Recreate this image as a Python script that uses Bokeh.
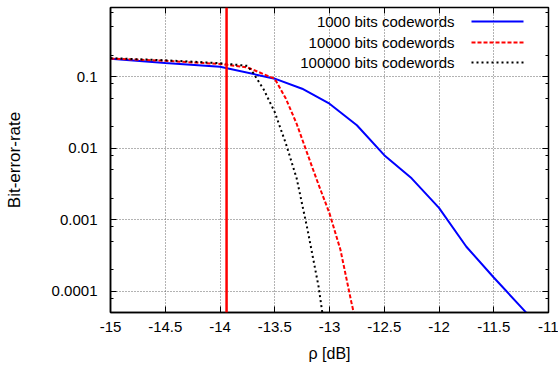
from bokeh.plotting import figure
from bokeh.models import Range1d, FixedTicker, LogAxis, LinearAxis, Span, Label, Arrow
from bokeh.embed import file_html
from bokeh.resources import INLINE

# ---- data ----
rho_1000 = [-15, -14.5, -14, -13.5, -13.25, -13, -12.75, -12.5, -12.25, -12, -11.75, -11.5, -11.25, -11.0]
ber_1000 = [0.178, 0.156, 0.138, 0.094, 0.068, 0.042, 0.021, 0.008, 0.0038, 0.00147, 0.00042, 0.000156, 6.0e-5, 2.3e-5]

rho_10000 = [-15, -14.5, -14, -13.75, -13.5, -13.4, -13.3, -13.2, -13.1, -13.0, -12.9, -12.8, -12.75]
ber_10000 = [0.18, 0.167, 0.151, 0.135, 0.094, 0.05, 0.022, 0.0082, 0.0031, 0.00123, 0.00038, 7e-5, 3.2e-5]

rho_100000 = [-15, -14.5, -14, -13.75, -13.7, -13.6, -13.5, -13.4, -13.3, -13.2, -13.1, -13.0]
ber_100000 = [0.182, 0.17, 0.155, 0.142, 0.115, 0.066, 0.032, 0.0118, 0.0038, 0.00072, 0.000117, 1e-5]

threshold_rho = -13.94

series_labels = ["1000 bits codewords", "10000 bits codewords", "100000 bits codewords"]

x_ticks = [-15, -14.5, -14, -13.5, -13, -12.5, -12, -11.5, -11]
x_tick_labels = ["-15", "-14.5", "-14", "-13.5", "-13", "-12.5", "-12", "-11.5", "-11"]
y_ticks = [0.0001, 0.001, 0.01, 0.1]
y_tick_labels = ["0.0001", "0.001", "0.01", "0.1"]
y_minor = [m * d for d in [1e-5, 1e-4, 1e-3, 1e-2, 1e-1] for m in (2, 5, 8)]

FONT = "Liberation Sans"

p = figure(width=558, height=368, x_range=Range1d(-15, -11), y_range=Range1d(5.05e-5, 0.93),
           y_axis_type="log", output_backend="svg", toolbar_location=None,
           min_border_left=110, min_border_right=10, min_border_top=7, min_border_bottom=56)
p.background_fill_color = "white"
p.outline_line_color = "black"
p.outline_line_width = 1.5

xt = FixedTicker(ticks=x_ticks)
yt = FixedTicker(ticks=y_ticks, minor_ticks=y_minor)

xa = p.xaxis[0]
xa.ticker = xt
xa.major_label_overrides = {float(v): s for v, s in zip(x_ticks, x_tick_labels)}
ya = p.yaxis[0]
ya.ticker = yt
ya.major_label_overrides = {float(v): s for v, s in zip(y_ticks, y_tick_labels)}

for ax in (xa, ya):
    ax.major_tick_in = 6
    ax.major_tick_out = 0
    ax.minor_tick_in = 3
    ax.minor_tick_out = 0
    ax.axis_line_width = 1.5
    ax.axis_line_color = "black"
    ax.major_tick_line_color = "black"
    ax.minor_tick_line_color = "black"
    ax.major_label_text_font = FONT
    ax.major_label_text_font_size = "15px"
    ax.major_label_text_color = "black"
    ax.axis_label_text_font = FONT
    ax.axis_label_text_font_style = "normal"
    ax.axis_label_text_color = "black"

xa.axis_label = "ρ [dB]"
xa.axis_label_text_font_size = "16px"
xa.major_label_standoff = 9
xa.axis_label_standoff = 10
ya.axis_label = "Bit-error-rate"
ya.axis_label_text_font_size = "17px"
ya.major_label_standoff = 13
ya.axis_label_standoff = 25

# mirrored tick-only axes (labels invisible)
top = LinearAxis(ticker=xt, major_label_text_font_size="1px", major_label_text_alpha=0,
                 major_tick_in=6, major_tick_out=0, minor_tick_in=0, minor_tick_out=0,
                 major_label_standoff=0, axis_line_color=None, major_tick_line_color="black")
right = LogAxis(ticker=yt, major_label_text_font_size="1px", major_label_text_alpha=0,
                major_tick_in=6, major_tick_out=0, minor_tick_in=3, minor_tick_out=0,
                major_label_standoff=0, axis_line_color=None,
                major_tick_line_color="black", minor_tick_line_color="black")
p.add_layout(top, "above")
p.add_layout(right, "right")

for g in (p.xgrid[0], p.ygrid[0]):
    g.grid_line_color = "#666666"
    g.grid_line_dash = "1 2"
    g.grid_line_width = 1

colors = ["#0000ff", "#ff0000", "#000000"]
dashes = ["solid", "4 2", "2 3"]
xs = [rho_1000, rho_10000, rho_100000]
ys = [ber_1000, ber_10000, ber_100000]
for x, y, c, d in zip(xs, ys, colors, dashes):
    p.line(x, y, line_color=c, line_width=2, line_dash=d)

p.add_layout(Span(location=threshold_rho, dimension="height", line_color="#ff0000", line_width=2.5))

# legend (text left, sample right, as in gnuplot)
row_y = [291, 270, 250]
for lab, c, d, yy in zip(series_labels, colors, dashes, row_y):
    p.add_layout(Label(x=344, y=yy, x_units="screen", y_units="screen", text=lab,
                       text_align="right", text_baseline="middle", text_font=FONT,
                       text_font_size="15px", text_color="black"))
    p.add_layout(Arrow(end=None, x_start=361, y_start=yy, x_end=413, y_end=yy,
                       start_units="screen", end_units="screen",
                       line_color=c, line_width=2, line_dash=d))

open("out.html", "w").write(file_html(p, INLINE))
